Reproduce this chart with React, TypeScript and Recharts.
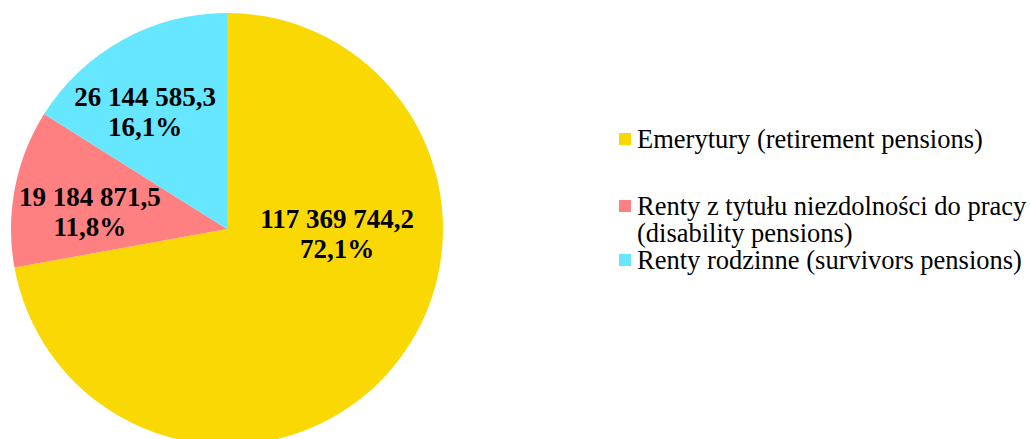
import { PieChart, Pie, Cell, Legend } from 'recharts';

const categories = [
  'Emerytury (retirement pensions)',
  'Renty z tytułu niezdolności do pracy (disability pensions)',
  'Renty rodzinne (survivors pensions)',
];
const amounts = [117369744.2, 19184871.5, 26144585.3];
const amountLabels = ['117 369 744,2', '19 184 871,5', '26 144 585,3'];
const shareLabels = ['72,1%', '11,8%', '16,1%'];

const colors = ['#FAD804', '#FF8080', '#66E6FF'];

// label placement per slice (angle in degrees, fraction of radius) — Excel puts them off the bisector
const labelPlacement = [
  { angle: -2.6, frac: 0.51 },
  { angle: 173, frac: 0.64 },
  { angle: 125, frac: 0.66 },
];
// extra space above each legend entry
const legendGaps = [0, 40, 0];

const data = categories.map((name, i) => ({ name, value: amounts[i] }));

const FONT = '"Liberation Serif", "Times New Roman", serif';

function SliceLabel(props: any) {
  const { cx, cy, outerRadius, index } = props;
  const p = labelPlacement[index];
  const rad = (p.angle * Math.PI) / 180;
  const x = cx + outerRadius * p.frac * Math.cos(rad);
  const y = cy - outerRadius * p.frac * Math.sin(rad);
  return (
    <text
      x={x}
      y={y}
      textAnchor="middle"
      fontFamily={FONT}
      fontWeight="bold"
      fontSize={27}
      fill="#000"
    >
      <tspan x={x} dy={-6}>{amountLabels[index]}</tspan>
      <tspan x={x} dy={30}>{shareLabels[index]}</tspan>
    </text>
  );
}

function LegendBox() {
  return (
    <div style={{ fontFamily: FONT, fontSize: 26.5, lineHeight: '27px', color: '#000' }}>
      {categories.map((c, i) => (
        <div key={c} style={{ display: 'flex', alignItems: 'flex-start', marginTop: legendGaps[i] }}>
          <span
            style={{
              width: 12,
              height: 12,
              background: colors[i],
              marginTop: 7,
              marginRight: 6,
              flex: 'none',
            }}
          />
          <span style={{ width: 400, whiteSpace: 'nowrap' }}>
            {i === 1 ? (
              <>
                Renty z tytułu niezdolności do pracy
                <br />
                (disability pensions)
              </>
            ) : (
              c
            )}
          </span>
        </div>
      ))}
    </div>
  );
}

export default function App() {
  return (
    <>
      <style>{`body{margin:0;background:#fff}`}</style>
      <PieChart width={1030} height={439}>
        <Pie
          data={data}
          dataKey="value"
          nameKey="name"
          cx={222}
          cy={224}
          outerRadius={216}
          startAngle={90}
          endAngle={-270}
          stroke="none"
          labelLine={false}
          label={SliceLabel}
          isAnimationActive={false}
        >
          {data.map((d, i) => (
            <Cell key={d.name} fill={colors[i]} />
          ))}
        </Pie>
        <Legend
          content={() => <LegendBox />}
          wrapperStyle={{ position: 'absolute', left: 619, top: 126, width: 411 }}
        />
      </PieChart>
    </>
  );
}
